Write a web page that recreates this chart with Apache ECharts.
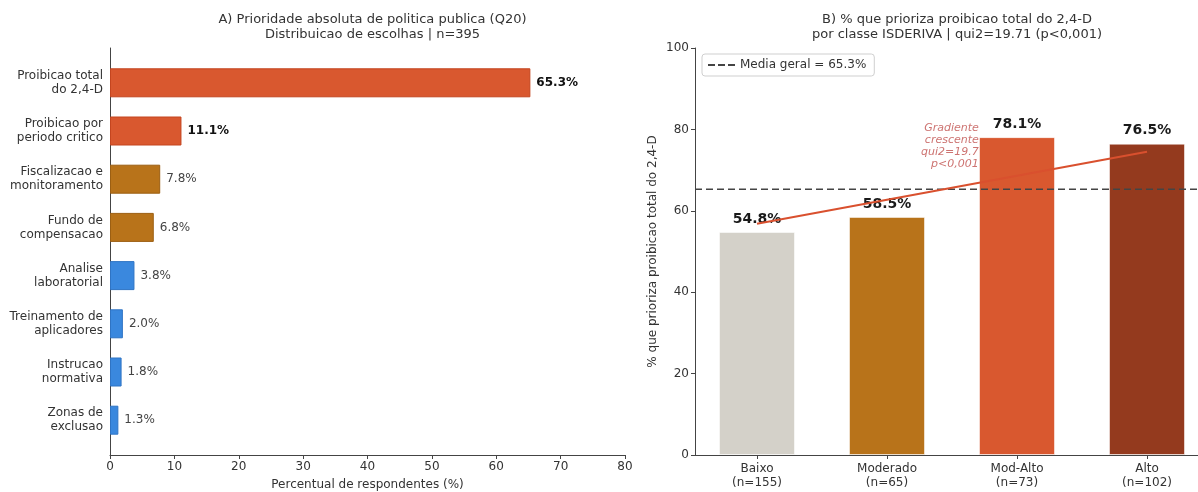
<!DOCTYPE html>
<html>
<head>
<meta charset="utf-8">
<title>Q20 - prioridade de politica publica</title>
<script src="https://cdn.jsdelivr.net/npm/echarts@6/dist/echarts.min.js"></script>
<style>
    *{margin:0;padding:0;}
    html,body{width:100%;height:100%;overflow:hidden;background:#fff;}
    #main{width:1198px;height:492px;}
</style>
</head>
<body>
<div id="main"></div>
<script>
// painel A: distribuicao das escolhas
const opcoes = [
    'Proibicao total\ndo 2,4-D',
    'Proibicao por\nperiodo critico',
    'Fiscalizacao e\nmonitoramento',
    'Fundo de\ncompensacao',
    'Analise\nlaboratorial',
    'Treinamento de\naplicadores',
    'Instrucao\nnormativa',
    'Zonas de\nexclusao'
];
const percentOpcoes = [65.3, 11.1, 7.8, 6.8, 3.8, 2.0, 1.8, 1.3];
const coresOpcoes = ['#d9582f', '#d9582f', '#b8731a', '#b8731a', '#3a88de', '#3a88de', '#3a88de', '#3a88de'];
const bordasOpcoes = ['#c4451f', '#c4451f', '#9c5f12', '#9c5f12', '#2f74c4', '#2f74c4', '#2f74c4', '#2f74c4'];

// painel B: % por classe ISDERIVA
const classes = ['Baixo', 'Moderado', 'Mod-Alto', 'Alto'];
const nClasses = [155, 65, 73, 102];
const percentClasses = [54.8, 58.5, 78.1, 76.5];
const coresClasses = ['#d4d1c9', '#b8731a', '#d9582f', '#943a1e'];
const mediaGeral = 65.3;
const setaGradiente = [[0, 56.8], [3, 74.5]];
const textoGradiente = ['Gradiente', 'crescente', 'qui2=19.7', 'p<0,001'];
const posTextoGradiente = [1.71, 76];

const chart = echarts.init(document.getElementById('main'));

const FONT = 'DejaVu Sans';
const AXIS_COLOR = '#444';
const TXT = '#333';

// layout
const A = {left: 110, top: 48, width: 515, height: 407};
const catTop = 58.7, catStep = 48.2;
// painel B: eixo vai alem da borda da figura (recortada)
const B = {left: 695, top: 48, width: 503, height: 407};
const unitB = 130;
const xMinB = -0.477;
const xMaxB = xMinB + B.width / unitB;
const idxClasses = classes.map((c, i) => i);

const option = {
    animation: false,
    textStyle: {fontFamily: FONT},
    title: [{
        text: 'A) Prioridade absoluta de politica publica (Q20)\nDistribuicao de escolhas | n=395',
        left: A.left + A.width / 2, top: 7, textAlign: 'center',
        textStyle: {fontFamily: FONT, fontSize: 13, fontWeight: 'normal', color: TXT, lineHeight: 15}
    }, {
        text: 'B) % que prioriza proibicao total do 2,4-D\npor classe ISDERIVA | qui2=19.71 (p<0,001)',
        left: B.left + (xMinB * -2 + 3) * unitB / 2, top: 7, textAlign: 'center',
        textStyle: {fontFamily: FONT, fontSize: 13, fontWeight: 'normal', color: TXT, lineHeight: 15}
    }],
    legend: {
        data: [{name: 'Media geral = 65.3%', icon: 'path://M0,0h7v2h-7z M10,0h7v2h-7z M20,0h7v2h-7z'}],
        left: 702, top: 54,
        itemWidth: 27, itemHeight: 2,
        padding: [5, 8, 5, 6],
        borderColor: '#cfcfcf', borderWidth: 1, borderRadius: 3,
        backgroundColor: '#fff',
        textStyle: {fontFamily: FONT, fontSize: 12, color: TXT}
    },
    grid: [
        {left: A.left, top: A.top, width: A.width, height: A.height, outerBoundsMode: 'none'},
        {left: A.left, top: catTop, width: A.width, height: catStep * opcoes.length, outerBoundsMode: 'none'},
        {left: B.left, top: B.top, width: B.width, height: B.height, outerBoundsMode: 'none'}
    ],
    xAxis: [{
        gridIndex: 0, type: 'value', min: 0, max: 80, interval: 10,
        axisLine: {onZero: false, lineStyle: {color: AXIS_COLOR}},
        axisTick: {length: 4, lineStyle: {color: AXIS_COLOR}},
        axisLabel: {fontSize: 12, color: TXT, margin: 6},
        splitLine: {show: false},
        name: 'Percentual de respondentes (%)', nameLocation: 'middle', nameGap: 24,
        nameTextStyle: {fontSize: 12, color: TXT}
    }, {
        gridIndex: 1, type: 'value', min: 0, max: 80, show: false
    }, {
        gridIndex: 2, type: 'value', min: xMinB, max: xMaxB,
        axisLine: {onZero: false, lineStyle: {color: AXIS_COLOR}},
        axisTick: {customValues: idxClasses, length: 4, lineStyle: {color: AXIS_COLOR}},
        axisLabel: {
            customValues: idxClasses,
            fontSize: 12, color: TXT, lineHeight: 14, margin: 7,
            formatter: v => {
                const i = Math.round(v);
                return classes[i] + '\n(n=' + nClasses[i] + ')';
            }
        },
        splitLine: {show: false}
    }],
    yAxis: [{
        gridIndex: 0, type: 'value', min: 0, max: 1,
        axisLine: {show: true, onZero: false, lineStyle: {color: AXIS_COLOR}},
        axisTick: {show: false}, axisLabel: {show: false}, splitLine: {show: false}
    }, {
        gridIndex: 1, type: 'category', data: opcoes, inverse: true,
        axisLine: {show: false},
        axisTick: {alignWithLabel: true, length: 4, lineStyle: {color: AXIS_COLOR}},
        axisLabel: {fontSize: 12, color: TXT, lineHeight: 14, margin: 7, align: 'right'}
    }, {
        gridIndex: 2, type: 'value', min: 0, max: 100, interval: 20,
        axisLine: {show: true, onZero: false, lineStyle: {color: AXIS_COLOR}},
        axisTick: {show: true, length: 4, lineStyle: {color: AXIS_COLOR}},
        axisLabel: {fontSize: 12, color: TXT, margin: 6},
        splitLine: {show: false},
        name: '% que prioriza proibicao total do 2,4-D', nameLocation: 'middle', nameGap: 36,
        nameRotate: 90,
        nameTextStyle: {fontSize: 12, color: TXT}
    }],
    series: [{
        type: 'bar', xAxisIndex: 1, yAxisIndex: 1,
        barWidth: 29,
        data: percentOpcoes.map((v, i) => ({
            value: v,
            itemStyle: {color: coresOpcoes[i], borderColor: bordasOpcoes[i], borderWidth: 1},
            label: {fontWeight: i < 2 ? 'bold' : 'normal', color: i < 2 ? '#111' : '#444'}
        })),
        label: {
            show: true, position: 'right', distance: 6, fontSize: 12,
            formatter: p => p.value.toFixed(1) + '%'
        }
    }, {
        type: 'bar', xAxisIndex: 2, yAxisIndex: 2,
        barWidth: 76,
        data: percentClasses.map((v, i) => ({
            value: [i, v],
            itemStyle: {color: coresClasses[i], borderColor: 'rgba(255,255,255,0.55)', borderWidth: 1}
        })),
        label: {
            show: true, position: 'top', distance: 6, fontSize: 14, fontWeight: 'bold', color: '#1a1a1a',
            formatter: p => p.value[1].toFixed(1) + '%'
        },
        z: 2
    }, {
        name: 'Media geral = 65.3%',
        type: 'line', xAxisIndex: 2, yAxisIndex: 2,
        data: [[xMinB, mediaGeral], [xMaxB, mediaGeral]],
        showSymbol: false, symbol: 'none',
        lineStyle: {color: '#444', width: 1.7, type: [7, 4]},
        itemStyle: {color: '#444'},
        z: 3
    }, {
        type: 'line', xAxisIndex: 2, yAxisIndex: 2, data: [],
        markLine: {
            silent: true,
            symbol: ['none', 'arrow'], symbolSize: [0, 9],
            label: {show: false},
            lineStyle: {color: '#d9502e', width: 2, type: 'solid'},
            data: [[{coord: setaGradiente[0]}, {coord: setaGradiente[1]}]]
        },
        z: 5
    }, {
        type: 'scatter', xAxisIndex: 2, yAxisIndex: 2,
        data: [posTextoGradiente],
        symbolSize: 1,
        itemStyle: {color: 'rgba(0,0,0,0)'},
        label: {
            show: true, position: 'left', distance: 0, align: 'right',
            formatter: textoGradiente.join('\n'),
            fontStyle: 'italic', fontSize: 11, lineHeight: 12, color: '#c0504d'
        },
        z: 6
    }]
};

chart.setOption(option);
</script>
</body>
</html>
